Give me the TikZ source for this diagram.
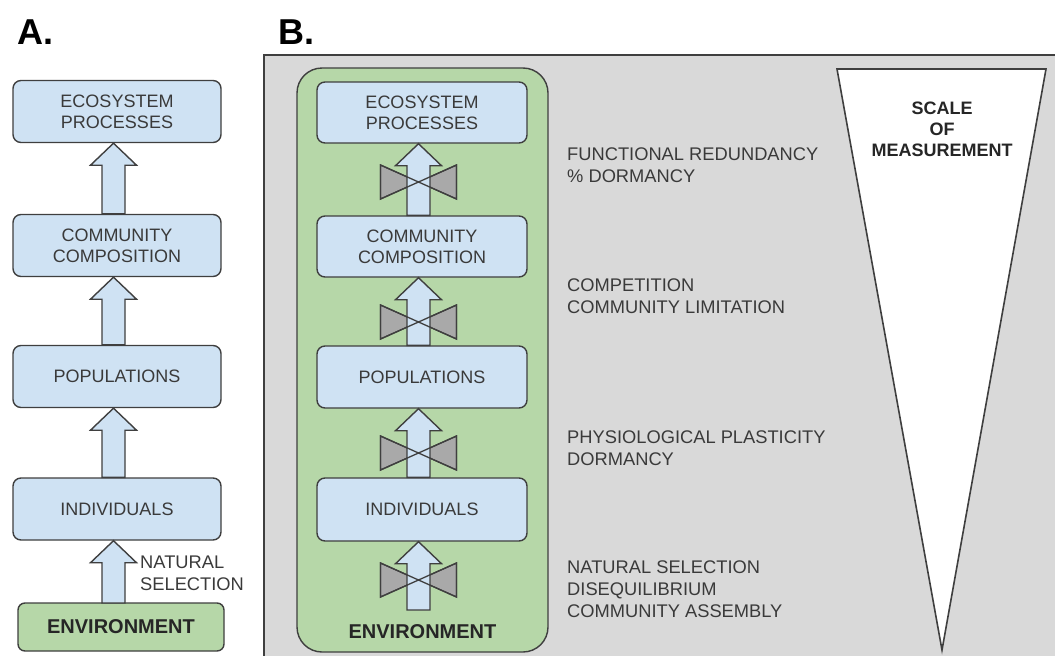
\documentclass[tikz,border=0pt]{standalone}
\usepackage{fontspec}
\setmainfont{Liberation Sans}
\usetikzlibrary{calc}
\definecolor{boxblue}{HTML}{CFE2F3}
\definecolor{envgreen}{HTML}{B6D7A8}
\definecolor{panelgray}{HTML}{D9D9D9}
\definecolor{valvegray}{HTML}{A9A9A9}
\definecolor{edgegray}{HTML}{3F3F3F}
\definecolor{txtgray}{HTML}{3A3A3A}
\newcommand\boxfont{\fontsize{18}{21}\selectfont}
\newcommand\notefont{\fontsize{18.3}{22}\selectfont}
% block arrow pointing up: #1 tail point, #2 tip point
\newcommand\upblock[2]{%
  \filldraw[blockarrow] let \p1=#1, \p2=#2 in
    (\x1-11.5pt,\y1) -- (\x1-11.5pt,\y2-22pt) -- (\x1-23pt,\y2-22pt) -- (\x1,\y2)
    -- (\x1+23pt,\y2-22pt) -- (\x1+11.5pt,\y2-22pt) -- (\x1+11.5pt,\y1) -- cycle;}
% two-triangle valve around a point
\newcommand\valvepath[1]{%
  (#1) -- ++(-38,-17) -- ++(0,34) -- cycle
  (#1) -- ++(38,-17) -- ++(0,34) -- cycle}
\begin{document}
\begin{tikzpicture}[x=1pt,y=-1pt,
  level/.style={draw=edgegray, fill=boxblue, rounded corners=8pt, line width=1.4pt,
    minimum height=62pt, text=txtgray, font=\boxfont, align=center, inner sep=0pt},
  envbox/.style={draw=edgegray, fill=envgreen, rounded corners=7pt, line width=1.4pt,
    inner sep=0pt},
  blockarrow/.style={draw=edgegray, fill=boxblue, line width=1.4pt, line join=miter},
  valve/.style={draw=edgegray, fill=valvegray, line width=1.3pt},
  valveline/.style={draw=edgegray, line width=1.3pt},
  note/.style={anchor=west, align=left, text=txtgray, font=\notefont, inner sep=0pt},
  panellabel/.style={anchor=base west, font=\fontsize{36}{40}\selectfont\bfseries, inner sep=0pt}]
\useasboundingbox (0,0) rectangle (1055,656);

% ---------- panel A ----------
\node[panellabel] (labA) at (17,44) {A.};
\node[level, minimum width=208pt] (a1) at (117,111.5) {ECOSYSTEM\\PROCESSES};
\node[level, minimum width=208pt] (a2) at (117,245.5) {COMMUNITY\\COMPOSITION};
\node[level, minimum width=208pt] (a3) at (117,376.5) {POPULATIONS};
\node[level, minimum width=208pt] (a4) at (117,509) {INDIVIDUALS};
\node[envbox, minimum width=206pt, minimum height=48pt,
      font=\fontsize{20}{24}\selectfont\bfseries, text=black!85] (aenv) at (121,627) {ENVIRONMENT};

\upblock{([xshift=-3.5pt]a2.north)}{([xshift=-3.5pt]a1.south)}
\upblock{([xshift=-3.5pt]a3.north)}{([xshift=-3.5pt]a2.south)}
\upblock{([xshift=-3.5pt]a4.north)}{([xshift=-3.5pt]a3.south)}
\upblock{(113.5,603)}{([xshift=-3.5pt]a4.south)}
\node[note] (ns) at (140,573.5) {NATURAL\\SELECTION};

% ---------- panel B ----------
\node[panellabel] (labB) at (278,44) {B.};
\filldraw[fill=panelgray, draw=edgegray, line width=2pt] (264,55) rectangle (1075,676);

\node[envbox, rounded corners=25pt, minimum width=251pt, minimum height=584pt] (benv) at (422.5,360) {};
\node[font=\fontsize{20}{24}\selectfont\bfseries, text=black!85, inner sep=0pt] (benvlabel) at (422.5,632) {ENVIRONMENT};

\node[level, minimum width=210pt, minimum height=61pt] (b1) at (422,112.5) {ECOSYSTEM\\PROCESSES};
\node[level, minimum width=210pt, minimum height=61pt] (b2) at (422,246.5) {COMMUNITY\\COMPOSITION};
\node[level, minimum width=210pt, minimum height=62pt] (b3) at (422,377) {POPULATIONS};
\node[level, minimum width=210pt, minimum height=63pt] (b4) at (422,509.5) {INDIVIDUALS};

\coordinate (v1) at (418.5,182);
\coordinate (v2) at (418.5,322);
\coordinate (v3) at (418.5,453);
\coordinate (v4) at (418.5,580);
\coordinate (btail) at (418.5,610);

% valve bodies, then arrows, then valve outlines on top
\path[valve] \valvepath{v1} \valvepath{v2} \valvepath{v3} \valvepath{v4};
\upblock{([xshift=-3.5pt]b2.north)}{([xshift=-3.5pt]b1.south)}
\upblock{([xshift=-3.5pt]b3.north)}{([xshift=-3.5pt]b2.south)}
\upblock{([xshift=-3.5pt]b4.north)}{([xshift=-3.5pt]b3.south)}
\upblock{(btail)}{([xshift=-3.5pt]b4.south)}
\path[valveline] \valvepath{v1} \valvepath{v2} \valvepath{v3} \valvepath{v4};

% mechanisms at each level
\node[note] (m1) at (567,165.5) {FUNCTIONAL REDUNDANCY\\\% DORMANCY};
\node[note] (m2) at (567,296) {COMPETITION\\COMMUNITY LIMITATION};
\node[note] (m3) at (567,448) {PHYSIOLOGICAL PLASTICITY\\DORMANCY};
\node[note] (m4) at (567,589) {NATURAL SELECTION\\DISEQUILIBRIUM\\COMMUNITY ASSEMBLY};

% scale of measurement wedge
\filldraw[fill=white, draw=edgegray, line width=1.6pt, line join=miter]
  (837,69) coordinate (w1) -- (1046,69) coordinate (w2) -- (942,650) coordinate (w3) -- cycle;
\node[align=center, font=\fontsize{18}{21}\selectfont\bfseries, text=black!85, inner sep=0pt] (scale) at (942,129)
  {SCALE\\OF\\MEASUREMENT};
\end{tikzpicture}
\end{document}
